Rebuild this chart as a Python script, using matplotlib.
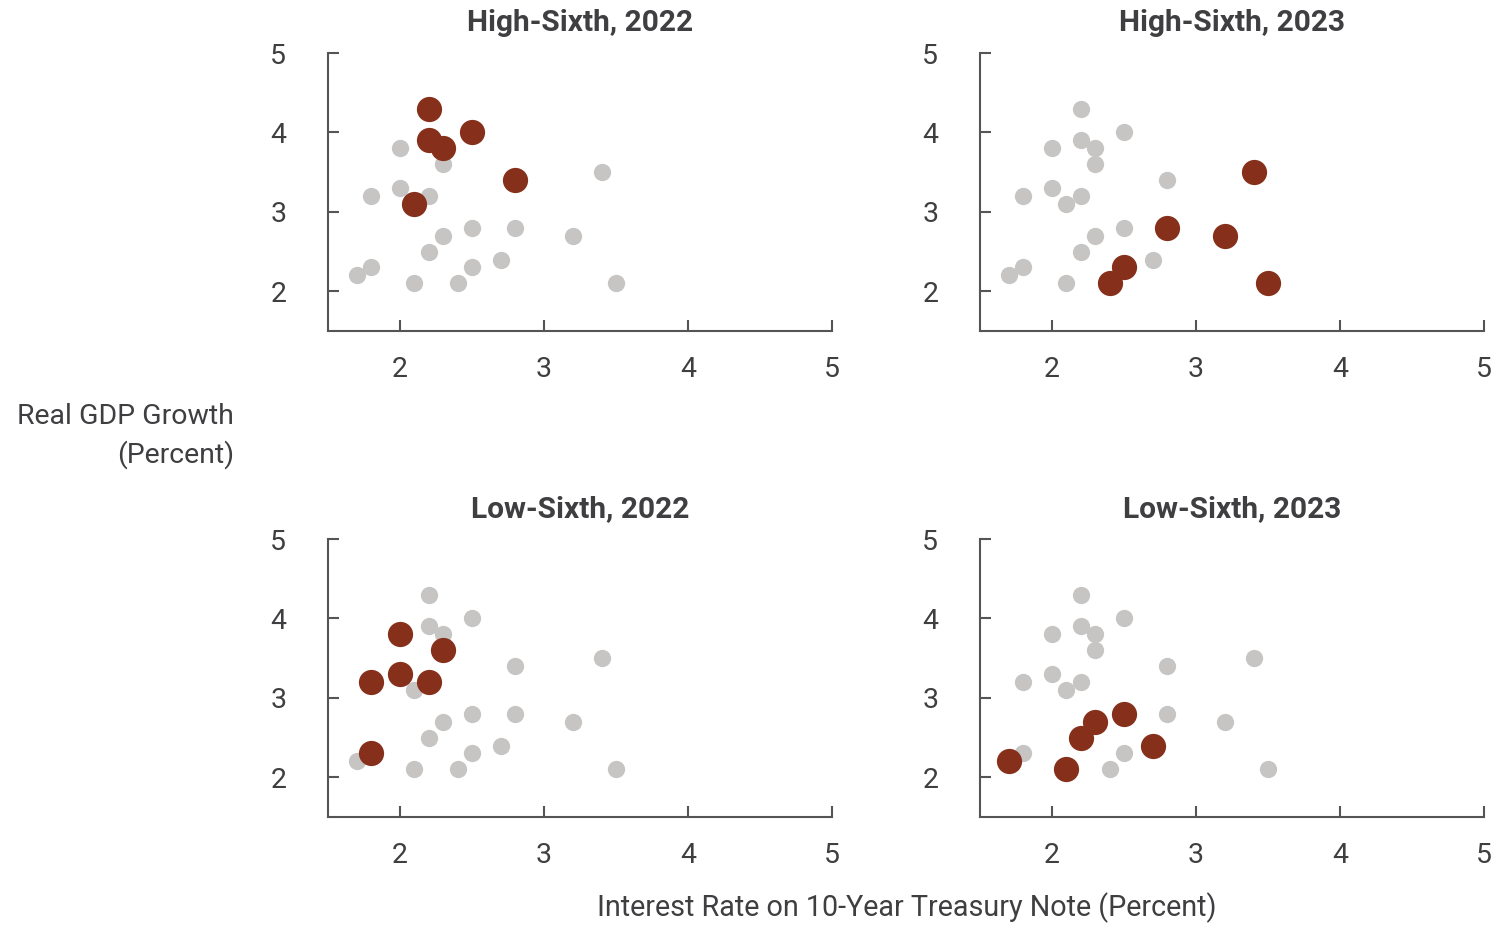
import matplotlib
matplotlib.use("Agg")
import matplotlib.pyplot as plt

plt.rcParams['font.family'] = ['Roboto', 'DejaVu Sans']

# All 24 observations: (interest rate, real GDP growth), grouped
high_2022_x = [2.2, 2.2, 2.3, 2.5, 2.8, 2.1]
high_2022_y = [4.3, 3.9, 3.8, 4.0, 3.4, 3.1]
high_2023_x = [3.4, 2.8, 3.2, 2.5, 2.4, 3.5]
high_2023_y = [3.5, 2.8, 2.7, 2.3, 2.1, 2.1]
low_2022_x = [2.0, 2.3, 2.0, 1.8, 2.2, 1.8]
low_2022_y = [3.8, 3.6, 3.3, 3.2, 3.2, 2.3]
low_2023_x = [1.7, 2.1, 2.2, 2.3, 2.5, 2.7]
low_2023_y = [2.2, 2.1, 2.5, 2.7, 2.8, 2.4]

titles = ["High-Sixth, 2022", "High-Sixth, 2023", "Low-Sixth, 2022", "Low-Sixth, 2023"]
ticks = [2, 3, 4, 5]

groups = [(high_2022_x, high_2022_y), (high_2023_x, high_2023_y),
          (low_2022_x, low_2022_y), (low_2023_x, low_2023_y)]
all_x = sum([g[0] for g in groups], [])
all_y = sum([g[1] for g in groups], [])

W, H = 1496, 925
fig = plt.figure(figsize=(W / 100, H / 100), dpi=100)

grey = "#c6c5c3"
red = "#86301c"
axcol = "#555558"
txtcol = "#3f3f42"

# axes boxes in pixels: (left, top, right, bottom)
boxes = [(328, 53, 832, 331), (980, 53, 1484, 331),
         (328, 539, 832, 817), (980, 539, 1484, 817)]

for (l, t, r, b), title, (gx, gy) in zip(boxes, titles, groups):
    ax = fig.add_axes([l / W, 1 - b / H, (r - l) / W, (b - t) / H])
    ax.scatter(all_x, all_y, s=155, color=grey, linewidths=0, zorder=2)
    ax.scatter(gx, gy, s=330, color=red, linewidths=0, zorder=3)
    ax.set_xlim(1.5, 5)
    ax.set_ylim(1.5, 5)
    ax.set_xticks(ticks)
    ax.set_yticks(ticks)
    ax.set_xticklabels([str(v) for v in ticks])
    ax.set_yticklabels([str(v) for v in ticks])
    for side in ["top", "right"]:
        ax.spines[side].set_visible(False)
    for side in ["left", "bottom"]:
        ax.spines[side].set_color(axcol)
        ax.spines[side].set_linewidth(1.5)
    ax.tick_params(direction="in", length=8, width=1.5, color=axcol,
                   labelsize=20.5, labelcolor=txtcol)
    ax.tick_params(axis="x", pad=18)
    ax.tick_params(axis="y", pad=30)
    ax.set_title(title, fontsize=21.5, fontweight="bold", color=txtcol, pad=16,
                 x=0.5)
    ax.set_facecolor("none")

fig.text(234 / W, 1 - 436 / H, "Real GDP Growth\n(Percent)", ha="right",
         va="center", fontsize=20.5, color=txtcol, linespacing=1.45)
fig.text(907 / W, 1 - 908 / H, "Interest Rate on 10-Year Treasury Note (Percent)",
         ha="center", va="center", fontsize=20.7, color=txtcol)

fig.savefig("out.png", dpi=100)
